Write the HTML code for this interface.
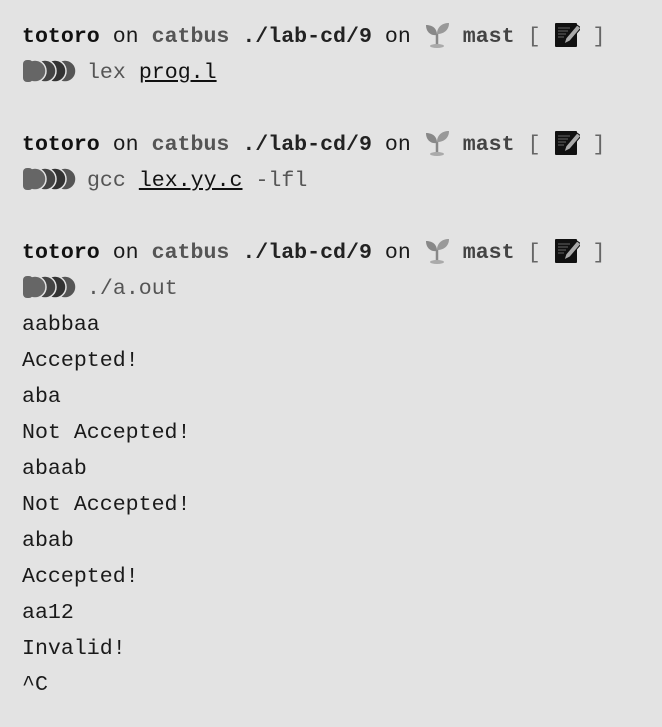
<!DOCTYPE html>
<html><head><meta charset="utf-8"><style>
html,body{margin:0;padding:0;background:#e3e3e3;}
body{width:662px;height:727px;overflow:hidden;}
pre{margin:0;position:absolute;left:22px;top:19px;font-family:"Liberation Mono",monospace;font-size:21.6px;line-height:36px;color:#1a1a1a;}
.k{color:#111;font-weight:bold}
.g{color:#555;font-weight:bold}
.d{color:#222;font-weight:bold}
.m{color:#444;font-weight:bold}
.br{color:#666}
.c{color:#555}
u{color:#111;text-decoration:underline;}
.ic{display:inline-block;width:26px;height:28px;vertical-align:-6px;}
.pr{display:inline-block;width:56px;height:26px;vertical-align:-6px;margin-left:0;margin-right:-4px;}
</style></head><body>
<pre><span class="k">totoro</span> on <span class="g">catbus</span> <span class="d">./lab-cd/9</span> on <svg class="ic" viewBox="0 0 26 28"><path d="M13 26V14" stroke="#888" stroke-width="2.5"/><path d="M13 15C8 16 2 13 2 5C8 5 13 8 13 15Z" fill="#888"/><path d="M13 14C13 7 18 3 25 3C25 10 20 14 13 14Z" fill="#999"/><ellipse cx="13" cy="26" rx="7" ry="2" fill="#aaa"/></svg> <span class="m">mast</span> <span class="br">[</span> <svg class="ic" viewBox="0 0 26 28"><rect x="1" y="3" width="22" height="24" rx="1" fill="#111"/><g stroke="#555" stroke-width="1.2"><path d="M4 8h12M4 11h10M4 14h8M4 17h6"/></g><path d="M10 24l2-6 11-13 4 3-11 13z" fill="#aaa" stroke="#111"/></svg> <span class="br">]</span>
<svg class="pr" viewBox="0 0 56 26"><g stroke="#e3e3e3" stroke-width="1.5"><circle cx="43" cy="13" r="11" fill="#555"/><circle cx="33" cy="13" r="11" fill="#333"/><circle cx="23" cy="13" r="11" fill="#444"/><circle cx="13" cy="13" r="11" fill="#666"/><rect x="1" y="2" width="10" height="22" rx="4" fill="#666" stroke="none"/></g></svg> <span class="c">lex</span> <u>prog.l</u>

<span class="k">totoro</span> on <span class="g">catbus</span> <span class="d">./lab-cd/9</span> on <svg class="ic" viewBox="0 0 26 28"><path d="M13 26V14" stroke="#888" stroke-width="2.5"/><path d="M13 15C8 16 2 13 2 5C8 5 13 8 13 15Z" fill="#888"/><path d="M13 14C13 7 18 3 25 3C25 10 20 14 13 14Z" fill="#999"/><ellipse cx="13" cy="26" rx="7" ry="2" fill="#aaa"/></svg> <span class="m">mast</span> <span class="br">[</span> <svg class="ic" viewBox="0 0 26 28"><rect x="1" y="3" width="22" height="24" rx="1" fill="#111"/><g stroke="#555" stroke-width="1.2"><path d="M4 8h12M4 11h10M4 14h8M4 17h6"/></g><path d="M10 24l2-6 11-13 4 3-11 13z" fill="#aaa" stroke="#111"/></svg> <span class="br">]</span>
<svg class="pr" viewBox="0 0 56 26"><g stroke="#e3e3e3" stroke-width="1.5"><circle cx="43" cy="13" r="11" fill="#555"/><circle cx="33" cy="13" r="11" fill="#333"/><circle cx="23" cy="13" r="11" fill="#444"/><circle cx="13" cy="13" r="11" fill="#666"/><rect x="1" y="2" width="10" height="22" rx="4" fill="#666" stroke="none"/></g></svg> <span class="c">gcc</span> <u>lex.yy.c</u> <span class="c">-lfl</span>

<span class="k">totoro</span> on <span class="g">catbus</span> <span class="d">./lab-cd/9</span> on <svg class="ic" viewBox="0 0 26 28"><path d="M13 26V14" stroke="#888" stroke-width="2.5"/><path d="M13 15C8 16 2 13 2 5C8 5 13 8 13 15Z" fill="#888"/><path d="M13 14C13 7 18 3 25 3C25 10 20 14 13 14Z" fill="#999"/><ellipse cx="13" cy="26" rx="7" ry="2" fill="#aaa"/></svg> <span class="m">mast</span> <span class="br">[</span> <svg class="ic" viewBox="0 0 26 28"><rect x="1" y="3" width="22" height="24" rx="1" fill="#111"/><g stroke="#555" stroke-width="1.2"><path d="M4 8h12M4 11h10M4 14h8M4 17h6"/></g><path d="M10 24l2-6 11-13 4 3-11 13z" fill="#aaa" stroke="#111"/></svg> <span class="br">]</span>
<svg class="pr" viewBox="0 0 56 26"><g stroke="#e3e3e3" stroke-width="1.5"><circle cx="43" cy="13" r="11" fill="#555"/><circle cx="33" cy="13" r="11" fill="#333"/><circle cx="23" cy="13" r="11" fill="#444"/><circle cx="13" cy="13" r="11" fill="#666"/><rect x="1" y="2" width="10" height="22" rx="4" fill="#666" stroke="none"/></g></svg> <span class="c">./a.out</span>
aabbaa
Accepted!
aba
Not Accepted!
abaab
Not Accepted!
abab
Accepted!
aa12
Invalid!
^C</pre>
</body></html>
